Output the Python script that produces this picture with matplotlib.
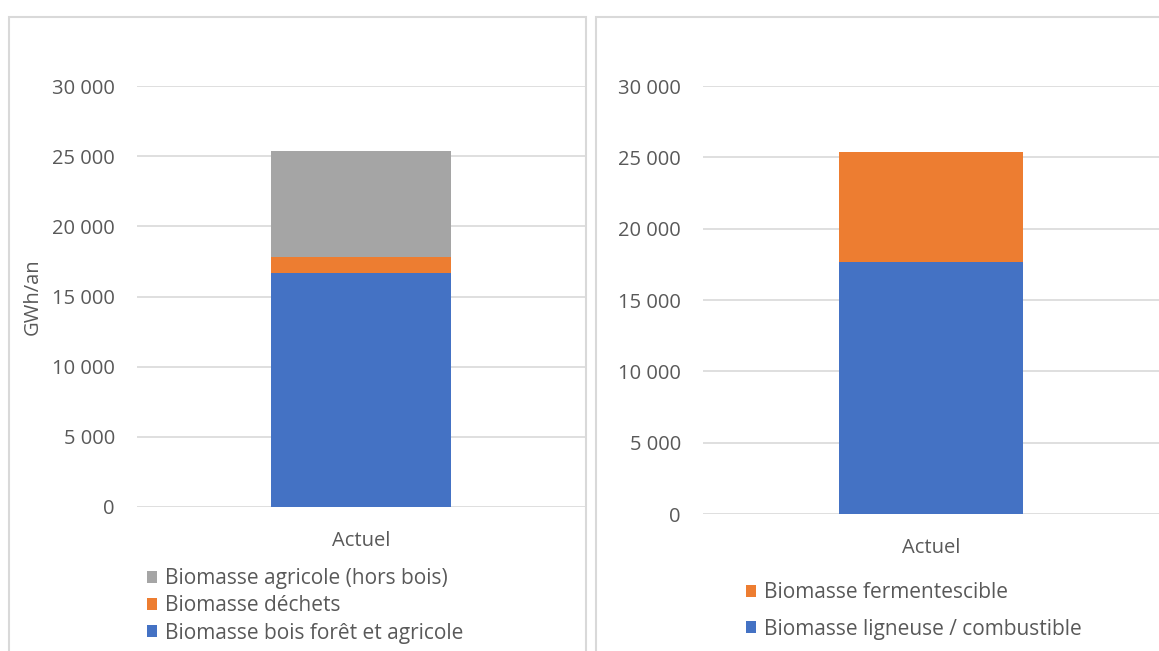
import numpy as np
import matplotlib.pyplot as plt
from matplotlib.patches import Rectangle

plt.rcParams['font.family'] = ['Open Sans', 'DejaVu Sans']

# données
categories = ['Actuel']
bois_foret = [16650]
dechets = [1170]
agricole = [7550]

ligneuse = [17650]
fermentescible = [7700]

yticks = [0, 5000, 10000, 15000, 20000, 25000, 30000]
ytick_labels = ['0', '5 000', '10 000', '15 000', '20 000', '25 000', '30 000']

BLUE = '#4472c4'
ORANGE = '#ed7d31'
GRAY = '#a5a5a5'
TXT = '#595959'
GRID = '#d9d9d9'
FS = 14.5
FS_LEG = 15

W, H = 1159, 651
fig = plt.figure(figsize=(W / 100, H / 100), dpi=100)


def px_axes(x0, y0, x1, y1):
    return fig.add_axes([x0 / W, 1 - y1 / H, (x1 - x0) / W, (y1 - y0) / H])


# cadres des deux graphiques
for (x0, y0, x1, y1) in [(9, 17, 586, 660), (596, 17, 1170, 660)]:
    fig.patches.append(Rectangle((x0 / W, 1 - y1 / H), (x1 - x0) / W, (y1 - y0) / H,
                                 transform=fig.transFigure, fill=False,
                                 edgecolor=GRID, lw=1.5))


def style(ax):
    ax.set_ylim(0, 30000)
    ax.set_xlim(-0.5, 0.5)
    ax.set_yticks(yticks)
    ax.set_yticklabels(ytick_labels)
    ax.yaxis.grid(True, color=GRID, lw=1.2)
    ax.set_axisbelow(True)
    for s in ax.spines.values():
        s.set_visible(False)
    ax.tick_params(length=0, colors=TXT, labelsize=FS, pad=16)
    ax.tick_params(axis='x', pad=17)
    ax.set_facecolor('none')


x = np.arange(len(categories))

# graphique de gauche
ax1 = px_axes(137, 86, 585, 507)
b1 = ax1.bar(x, bois_foret, width=0.4, color=BLUE, label='Biomasse bois forêt et agricole')
b2 = ax1.bar(x, dechets, width=0.4, bottom=bois_foret, color=ORANGE, label='Biomasse déchets')
bottom3 = np.array(bois_foret) + np.array(dechets)
b3 = ax1.bar(x, agricole, width=0.4, bottom=bottom3, color=GRAY, label='Biomasse agricole (hors bois)')
style(ax1)
ax1.set_xticks(x)
ax1.set_xticklabels(categories)
ax1.set_ylabel('GWh/an', color=TXT, fontsize=FS)
ax1.yaxis.set_label_coords(-0.21, 0.5)
ax1.legend([b3, b2, b1], [b3.get_label(), b2.get_label(), b1.get_label()],
           loc='upper left', bbox_to_anchor=(147 / W, 1 - 568 / H),
           bbox_transform=fig.transFigure, frameon=False, fontsize=FS_LEG,
           labelcolor=TXT, handlelength=0.5, handleheight=0.5,
           handletextpad=0.35, labelspacing=0.3, borderpad=0, borderaxespad=0)

# graphique de droite
ax2 = px_axes(703, 86, 1159, 514)
c1 = ax2.bar(x, ligneuse, width=0.405, color=BLUE, label='Biomasse ligneuse / combustible')
c2 = ax2.bar(x, fermentescible, width=0.405, bottom=ligneuse, color=ORANGE, label='Biomasse fermentescible')
style(ax2)
ax2.set_xticks(x)
ax2.set_xticklabels(categories)
ax2.legend([c2, c1], [c2.get_label(), c1.get_label()],
           loc='upper left', bbox_to_anchor=(746 / W, 1 - 582 / H),
           bbox_transform=fig.transFigure, frameon=False, fontsize=FS_LEG,
           labelcolor=TXT, handlelength=0.5, handleheight=0.5,
           handletextpad=0.35, labelspacing=0.75, borderpad=0, borderaxespad=0)

fig.savefig('out.png', dpi=100, facecolor='white')
